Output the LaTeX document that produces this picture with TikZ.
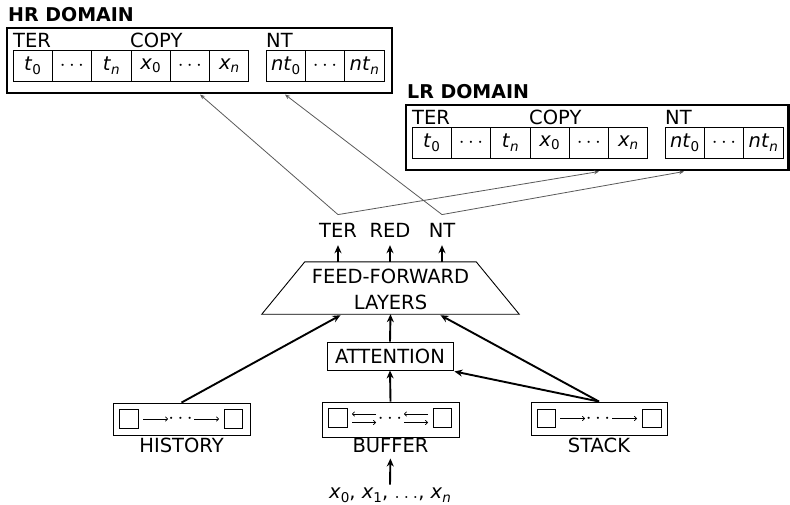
\documentclass[tikz,border=0pt]{standalone}
\usepackage{fontspec}
\setmainfont{DejaVu Sans}
\usetikzlibrary{arrows.meta,calc}

\newcommand\fsz{\fontsize{19.5}{26}\selectfont}
\newcommand\vsub[2]{\textit{#1}\raisebox{-0.35ex}{\fontsize{13.5}{13.5}\selectfont #2}}

% one output domain: prefix, origin x, origin y, title, right edge of frame
\newcommand\domainpanel[5]{%
  \begin{scope}[shift={(#2,#3)}]
    \draw[frame] (-6,-22) rectangle (#5,43);
    \node[lbl, font=\fontsize{19}{24}\selectfont\bfseries, anchor=base west] (#1-title) at (-5,-29) {#4};
    \node[lbl, anchor=base west] (#1-ter) at (0,-3) {TER};
    \node[lbl, anchor=base west] (#1-copy) at (117,-3) {COPY};
    \node[lbl, anchor=base west] (#1-nt) at (253,-3) {NT};
    \node[cell] (#1-c0) at (19.65,15.75) {\vsub{t}{0}};
    \node[cell] (#1-c1) at (58.95,15.75) {$\cdots$};
    \node[cell] (#1-c2) at (98.25,15.75) {\vsub{t}{\textit{n}}};
    \node[cell] (#1-c3) at (137.55,15.75) {\vsub{x}{0}};
    \node[cell] (#1-c4) at (176.85,15.75) {$\cdots$};
    \node[cell] (#1-c5) at (216.15,15.75) {\vsub{x}{\textit{n}}};
    \node[cell] (#1-n0) at (272.65,15.75) {\vsub{nt}{0}};
    \node[cell] (#1-n1) at (311.95,15.75) {$\cdots$};
    \node[cell] (#1-n2) at (351.25,15.75) {\vsub{nt}{\textit{n}}};
    \coordinate (#1-inT) at (187,44.5);
    \coordinate (#1-inN) at (272,44.5);
  \end{scope}}

\begin{document}
\begin{tikzpicture}[x=1pt,y=-1pt,
  lbl/.style={font=\fsz, inner sep=0pt},
  cell/.style={draw, line width=0.8pt, minimum width=39.3pt, minimum height=31.5pt, inner sep=0pt, font=\fsz},
  frame/.style={draw, line width=2.3pt},
  box/.style={draw, line width=0.9pt},
  sq/.style={draw, line width=0.8pt, minimum size=18.5pt, inner sep=0pt},
  tiny/.style={line width=0.7pt, -{To[length=3pt,width=5pt]}},
  flow/.style={line width=1.9pt, -{Stealth[length=8pt,width=7pt]}},
  link/.style={draw=black!65, line width=0.8pt, -{Stealth[length=5pt,width=4pt]}},
]
\useasboundingbox (0,0) rectangle (790,504);

% output domains
\domainpanel{hr}{13}{50}{HR DOMAIN}{379}
\domainpanel{lr}{412}{127}{LR DOMAIN}{376.5}

% output labels of the network
\node[lbl, inner ysep=8pt, anchor=base] (oTER) at (338,237) {TER};
\node[lbl, inner ysep=8pt, anchor=base] (oRED) at (390,237) {RED};
\node[lbl, inner ysep=8pt, anchor=base] (oNT) at (442,237) {NT};

% feed-forward block
\node[minimum width=257pt, minimum height=52pt, inner sep=0pt] (ff) at (390.5,288) {};
\draw[box] (ff.south west) -- (ff.south east) -- ($(ff.north east)+(-43,0)$)
  -- ($(ff.north west)+(43,0)$) -- cycle;
\node[lbl, align=center] (fftxt) at (390.5,289) {FEED-FORWARD\\LAYERS};

\node[box, lbl, minimum width=126pt, minimum height=28pt] (att) at (390,356) {ATTENTION};

% input structures
\node[box, minimum width=137pt, minimum height=32pt] (hist) at (181.5,419) {};
\node[box, minimum width=137pt, minimum height=35pt] (buf) at (390.5,419.5) {};
\node[box, minimum width=136pt, minimum height=33pt] (stk) at (599,418.5) {};

\node[lbl, anchor=base] (histl) at (181.5,452) {HISTORY};
\node[lbl, anchor=base] (bufl) at (390.5,452) {BUFFER};
\node[lbl, anchor=base] (stkl) at (599,452) {STACK};

% history contents
\node[sq] (hA) at (129,419) {};
\node[sq] (hB) at (233.5,419) {};
\node[lbl] (hdots) at (180.5,419) {$\cdots$};
\draw[tiny] (143,419) -- (168,419);
\draw[tiny] (194,419) -- (219,419);

% buffer contents
\node[sq] (bA) at (338,418) {};
\node[sq] (bB) at (442.5,418) {};
\node[lbl] (bdots) at (390,419) {$\cdots$};
\draw[tiny] (376,414) -- (352,414);
\draw[tiny] (352,422.5) -- (376,422.5);
\draw[tiny] (428,414) -- (404,414);
\draw[tiny] (404,422.5) -- (428,422.5);

% stack contents
\node[sq] (sA) at (546.5,418.5) {};
\node[sq] (sB) at (652,418.5) {};
\node[lbl] (sdots) at (598,419) {$\cdots$};
\draw[tiny] (560,418.5) -- (585,418.5);
\draw[tiny] (612,418.5) -- (637,418.5);

\node[lbl, inner sep=3pt] (inp) at (390,495) {\vsub{x}{0}, \vsub{x}{1}, $\ldots$, \vsub{x}{\textit{n}}};

% main data flow
\draw[flow, shorten >=6pt] (inp.north) -- (bufl.south);
\draw[flow] (buf.north) -- (att.south);
\draw[flow] (att.north) -- (ff.south);
\draw[flow] (hist.north) -- ($(ff.south)+(-50,1)$);
\draw[flow] (stk.north) -- ($(ff.south)+(50,1)$);
\draw[flow] (stk.north) -- ($(att.south east)+(1,1)$);
\draw[flow] (oTER |- ff.north) -- (oTER.south);
\draw[flow] (oRED |- ff.north) -- (oRED.south);
\draw[flow] (oNT |- ff.north) -- (oNT.south);

% links to the output domains
\draw[link] (oTER.north) -- (hr-inT);
\draw[link] (oTER.north) -- (lr-inT);
\draw[link] (oNT.north) -- (hr-inN);
\draw[link] (oNT.north) -- (lr-inN);
\end{tikzpicture}
\end{document}
